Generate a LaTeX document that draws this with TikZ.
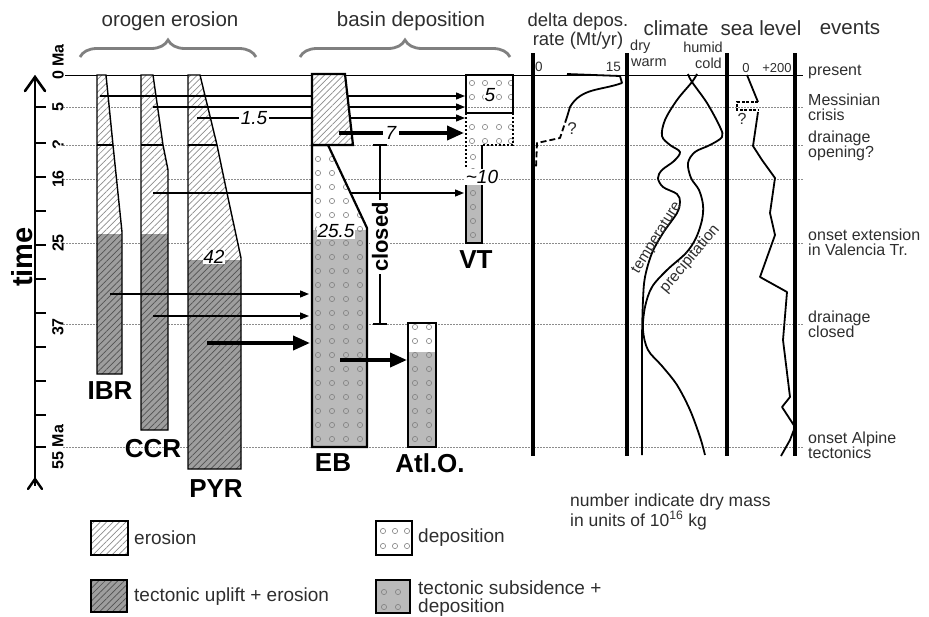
\documentclass[tikz,border=0pt]{standalone}
\usepackage{fontspec}
\setmainfont{Liberation Sans}
\usetikzlibrary{patterns.meta,arrows.meta,decorations.pathreplacing}
\begin{document}
\begin{tikzpicture}[x=1pt,y=-1pt,
  txt/.style={inner sep=0pt, text=black!82},
  hdr/.style={txt, font=\fontsize{20.5}{22}\selectfont},
  sm/.style={txt, font=\fontsize{14.5}{15}\selectfont},
  ev/.style={txt, font=\fontsize{16}{15.5}\selectfont, anchor=west, align=left},
  lg/.style={txt, font=\fontsize{19}{18}\selectfont, anchor=west, align=left},
  big/.style={inner sep=0pt, font=\fontsize{26}{26}\selectfont\bfseries},
  num/.style={inner sep=1.5pt, fill=white, font=\fontsize{19}{19}\selectfont\itshape},
  tlab/.style={inner sep=0pt, rotate=90, font=\fontsize{16}{16}\selectfont\bfseries},
  brc/.style={decorate, decoration={brace, amplitude=17pt}, line width=2.8pt, draw=black!50},
  gridl/.style={draw=black!45, dash pattern=on 1.5pt off 1.5pt, line width=0.8pt},
  colline/.style={draw=black, line width=1.4pt},
  ebline/.style={draw=black, line width=2.2pt},
  sepline/.style={line width=2.2pt},
  lighthatch/.style={pattern={Lines[angle=45,distance=4.5pt,line width=0.7pt]}, pattern color=black!45},
  darkfill/.style={fill=black!38},
  darkhatch/.style={pattern={Lines[angle=45,distance=4.5pt,line width=0.7pt]}, pattern color=black!68},
  subs/.style={fill=black!27},
  dotc/.style={draw=black!50, line width=0.6pt},
  thinarr/.style={line width=1.3pt, -{Triangle[length=9pt,width=7pt]}},
  thickarr/.style={line width=3.8pt, -{Triangle[length=17pt,width=14pt]}},
  panel/.style={line width=3.2pt},
  curve/.style={line width=1.8pt, line join=round},
  vtsolid/.style={line width=2.2pt},
  vtdot/.style={line width=2.2pt, dash pattern=on 2pt off 2pt},
]
\useasboundingbox (0,0) rectangle (929,616);

% headers and braces
\node[hdr] (hOro) at (170,21) {orogen erosion};
\node[hdr] (hBas) at (411,21) {basin deposition};
\draw[brc] (80,57) -- (256,57);
\draw[brc] (300,57) -- (510,57);
\node[txt, font=\fontsize{18.5}{20}\selectfont] (hDel1) at (578,22) {delta depos.};
\node[txt, font=\fontsize{18.5}{20}\selectfont] (hDel2) at (578,41) {rate (Mt/yr)};
\node[hdr] (hCli) at (676,28) {climate};
\node[hdr] (hSea) at (761,28) {sea level};
\node[hdr] (hEv) at (850,28) {events};
\node[sm, anchor=west] (lDry) at (630,47) {dry};
\node[sm, anchor=west] (lWarm) at (631,63) {warm};
\node[sm, anchor=east] (lHum) at (723,47) {humid};
\node[sm, anchor=east] (lCold) at (722,63) {cold};
\node[sm, anchor=west, font=\fontsize{13.5}{14}\selectfont] (lD0) at (535,67) {0};
\node[sm, anchor=east, font=\fontsize{13.5}{14}\selectfont] (lD15) at (621,67) {15};
\node[sm, font=\fontsize{13}{14}\selectfont] (lS0) at (746,68) {0};
\node[sm, font=\fontsize{13}{14}\selectfont] (lS200) at (777,68) {+200};

% time lines
\draw[line width=0.9pt] (65,75) -- (803,75);
\foreach \yy in {107,145,179,243,324,447} \draw[gridl] (63,\yy) -- (803,\yy);

% time axis
\draw[line width=2.6pt] (35,79) -- (35,486);
\draw[line width=2.6pt, line cap=round, line join=miter] (25,91) -- (35,77) -- (45,91);
\draw[line width=2.4pt, line cap=round] (28,489) -- (35,479) -- (42,489);
\foreach \yy in {107,143,177,211,245,279,313,347,381,415,447} \draw[line width=1.6pt] (35,\yy) -- (46,\yy);
\node[inner sep=0pt, rotate=90, font=\fontsize{29}{29}\selectfont\bfseries] (tTime) at (22,257) {time};
\node[tlab, anchor=west] (t0) at (58,80) {0 Ma};
\node[tlab] (t5) at (58,107) {5};
\node[tlab] (tq) at (58,145) {?};
\node[tlab] (t16) at (58,179) {16};
\node[tlab] (t25) at (58,243) {25};
\node[tlab] (t37) at (58,327) {37};
\node[tlab] (t55) at (58,447) {55 Ma};

% IBR
\begin{scope}
\clip (97,75) -- (106,75) -- (113,145) -- (122,232) -- (122,374) -- (97,374) -- cycle;
\fill[white] (90,70) rectangle (130,380);
\path[lighthatch] (90,70) rectangle (130,234);
\path[darkfill] (90,234) rectangle (130,380);
\path[darkhatch] (90,234) rectangle (130,380);
\end{scope}
\draw[colline] (97,75) -- (106,75) -- (113,145) -- (122,232) -- (122,374) -- (97,374) -- cycle;
\draw[sepline] (97,145) -- (113,145);
% CCR
\begin{scope}
\clip (141,75) -- (153,75) -- (163,145) -- (168,170) -- (168,430) -- (141,430) -- cycle;
\fill[white] (135,70) rectangle (175,435);
\path[lighthatch] (135,70) rectangle (175,234);
\path[darkfill] (135,234) rectangle (175,435);
\path[darkhatch] (135,234) rectangle (175,435);
\end{scope}
\draw[colline] (141,75) -- (153,75) -- (163,145) -- (168,170) -- (168,430) -- (141,430) -- cycle;
\draw[sepline] (141,145) -- (163,145);
% PYR
\begin{scope}
\clip (188,75) -- (200,75) -- (217,145) -- (227,193) -- (241,258) -- (241,469) -- (188,469) -- cycle;
\fill[white] (180,70) rectangle (250,475);
\path[lighthatch] (180,70) rectangle (250,260);
\path[darkfill] (180,260) rectangle (250,475);
\path[darkhatch] (180,260) rectangle (250,475);
\end{scope}
\draw[colline] (188,75) -- (200,75) -- (217,145) -- (227,193) -- (241,258) -- (241,469) -- (188,469) -- cycle;
\draw[sepline] (188,145) -- (217,145);

% arrows behind EB
\coordinate (a1s) at (100,96);  \coordinate (a1e) at (465,96);
\coordinate (a2s) at (153,107); \coordinate (a2e) at (465,107);
\coordinate (a3s) at (197,118); \coordinate (a3e) at (465,118);
\coordinate (a5s) at (153,193); \coordinate (a5e) at (464,193);
\coordinate (a6s) at (110,294); \coordinate (a6e) at (309,294);
\coordinate (a7s) at (153,316); \coordinate (a7e) at (309,316);
\coordinate (a8s) at (207,343); \coordinate (a8e) at (310,343);
\draw[thinarr] (a1s) -- (a1e);
\draw[thinarr] (a2s) -- (a2e);
\draw[thinarr] (a3s) -- (a3e);
\draw[thinarr] (a5s) -- (a5e);
\draw[thinarr] (a6s) -- (a6e);
\draw[thinarr] (a7s) -- (a7e);
\draw[thickarr] (a8s) -- (a8e);
\node[num] (n15) at (254,118) {1.5};

% EB
\fill[white] (312,145) -- (328,145) -- (367,228) -- (367,447) -- (312,447) -- cycle;
\begin{scope}
\clip (312,145) -- (328,145) -- (367,228) -- (367,447) -- (312,447) -- cycle;
\path[subs] (300,230) rectangle (380,450);
\foreach \yy in {159,173,...,439} \foreach \xx in {318,332,346,360} \draw[dotc] (\xx,\yy) circle (2.6);
\end{scope}
\draw[ebline] (312,145) -- (328,145) -- (367,228) -- (367,447) -- (312,447) -- cycle;
\fill[white] (312,74) -- (345,74) -- (353,145) -- (312,145) -- cycle;
\path[lighthatch] (312,74) -- (345,74) -- (353,145) -- (312,145) -- cycle;
\draw[ebline] (312,74) -- (345,74) -- (353,145) -- (312,145) -- cycle;
\node[num, inner sep=1pt] (n255) at (336,231) {25.5};

% Atl.O.
\fill[white] (408,323) rectangle (436,447);
\path[subs] (408,352) rectangle (436,447);
\foreach \yy in {327,341,...,439} \foreach \xx in {415,429} \draw[dotc] (\xx,\yy) circle (2.6);
\draw[ebline] (408,323) rectangle (436,447);

% VT
\path[subs] (466,185) rectangle (482,243);
\foreach \yy in {83,97,127,141} \foreach \xx in {472,485,499,511} \draw[dotc] (\xx,\yy) circle (2.6);
\foreach \yy in {157,171,193,207,221,235} \draw[dotc] (473,\yy) circle (2.6);
\draw[vtsolid] (466,75) rectangle (513,113);
\draw[vtdot] (466,113) -- (466,183);
\draw[vtdot] (513,113) -- (513,145) -- (482,145);
\draw[vtsolid] (482,145) -- (482,243) -- (466,243) -- (466,183);
\node[num, inner sep=0.5pt] (n5) at (490,95) {5};
\node[num, inner sep=1pt] (n10) at (482,177) {\textasciitilde10};

% arrows over EB
\coordinate (a4s) at (339,133); \coordinate (a4e) at (464,133);
\coordinate (a9s) at (340,360); \coordinate (a9e) at (407,360);
\draw[thickarr] (a4s) -- (a4e);
\draw[thickarr] (a9s) -- (a9e);
\node[num, inner sep=3pt] (n7) at (391,133) {7};
\node[num, inner sep=0.5pt] (n42) at (214,257) {42};

% closed bracket
\coordinate (cTop) at (380,145); \coordinate (cBot) at (380,324);
\draw[line width=1.3pt] (cTop) -- (cBot);
\draw[line width=1.3pt] (373,145) -- (387,145);
\draw[line width=1.3pt] (373,324) -- (387,324);
\node[rotate=90, fill=white, inner sep=2pt, font=\fontsize{22}{22}\selectfont\bfseries] (nClosed) at (380,237) {closed};

% column labels
\node[big] (lIBR) at (110,391) {IBR};
\node[big] (lCCR) at (153,449) {CCR};
\node[big] (lPYR) at (216,489) {PYR};
\node[big] (lEB) at (333,463) {EB};
\node[big] (lAtl) at (430,463) {Atl.O.};
\node[big] (lVT) at (476,260) {VT};

% right panels
\foreach \xx in {533,627,727,795} \draw[panel] (\xx,53) -- (\xx,456);

% delta deposition rate
\draw[curve] (567,74) -- (620,76) -- (622,83) to[out=200,in=60] (570,107) -- (567,117);
\draw[curve, dash pattern=on 6pt off 3pt] (567,117) -- (560,138) -- (537,143) -- (536,168);
\node[txt, font=\fontsize{17}{17}\selectfont] (qD) at (572,129) {?};

% climate
\draw[curve] plot[smooth, tension=0.55] coordinates {(697,74) (692,82) (677,100) (665,120) (662,136) (670,145) (680,152) (674,161) (662,170) (658,178) (663,187) (677,194) (680,202) (677,213) (663,233) (652,253) (645,277) (643,300) (642,340) (642,400) (642,455)};
\draw[curve] plot[smooth, tension=0.55] coordinates {(688,74) (692,82) (707,103) (720,127) (722,137) (710,145) (695,152) (688,163) (691,178) (699,190) (703,205) (702,220) (696,238) (686,253) (667,270) (652,287) (645,307) (643,330) (648,350) (662,366) (677,385) (690,410) (700,437) (705,455)};
\node[txt, rotate=58, font=\fontsize{15}{15}\selectfont] (lTemp) at (657,238) {temperature};
\node[txt, rotate=50, font=\fontsize{15.5}{15}\selectfont] (lPrec) at (690,259) {precipitation};

% sea level
\draw[curve] (747,75) -- (758,102);
\draw[line width=1.5pt, dash pattern=on 3pt off 1.5pt] (758,102) -- (737,102) -- (737,110) -- (758,110);
\draw[curve] (758,112) -- (753,146) -- (762,160) -- (775,178) -- (770,213) -- (775,235) -- (760,277) -- (787,292) -- (783,340) -- (790,397) -- (782,407) -- (795,427) -- (790,440) -- (781,456);
\node[txt, font=\fontsize{16}{16}\selectfont] (qS) at (742,119) {?};

% events
\node[ev] (e1) at (808,72) {present};
\node[ev] (e2) at (808,107.5) {Messinian\\crisis};
\node[ev] (e3) at (808,146) {drainage\\opening?};
\node[ev] (e4) at (808,242.5) {onset extension\\in Valencia Tr.};
\node[ev] (e5) at (808,324.5) {drainage\\closed};
\node[ev] (e6) at (808,445.5) {onset Alpine\\tectonics};

% note
\node[txt, anchor=west, align=left, font=\fontsize{17.5}{18}\selectfont] (note) at (570,512) {number indicate dry mass\\in units of 10\textsuperscript{16} kg};

% legend
\path[lighthatch] (91,521) rectangle (128,555);
\draw[line width=1.4pt] (91,521) rectangle (128,555);
\node[lg] (lgE) at (134,538) {erosion};
\path[darkfill] (91,580) rectangle (127,612);
\path[darkhatch] (91,580) rectangle (127,612);
\draw[line width=1.4pt] (91,580) rectangle (127,612);
\node[lg] (lgT) at (134,597) {tectonic uplift + erosion};
\foreach \yy in {531,546} \foreach \xx in {383,395,407} \draw[dotc] (\xx,\yy) circle (2.6);
\draw[line width=1.4pt] (376,521) rectangle (412,555);
\node[lg] (lgD) at (418,538) {deposition};
\path[subs] (376,580) rectangle (410,613);
\foreach \yy in {592,607} \foreach \xx in {384,398} \draw[dotc] (\xx,\yy) circle (2.6);
\draw[line width=1.4pt] (376,580) rectangle (410,613);
\node[lg] (lgS) at (418,599) {tectonic subsidence +\\deposition};
\end{tikzpicture}
\end{document}
